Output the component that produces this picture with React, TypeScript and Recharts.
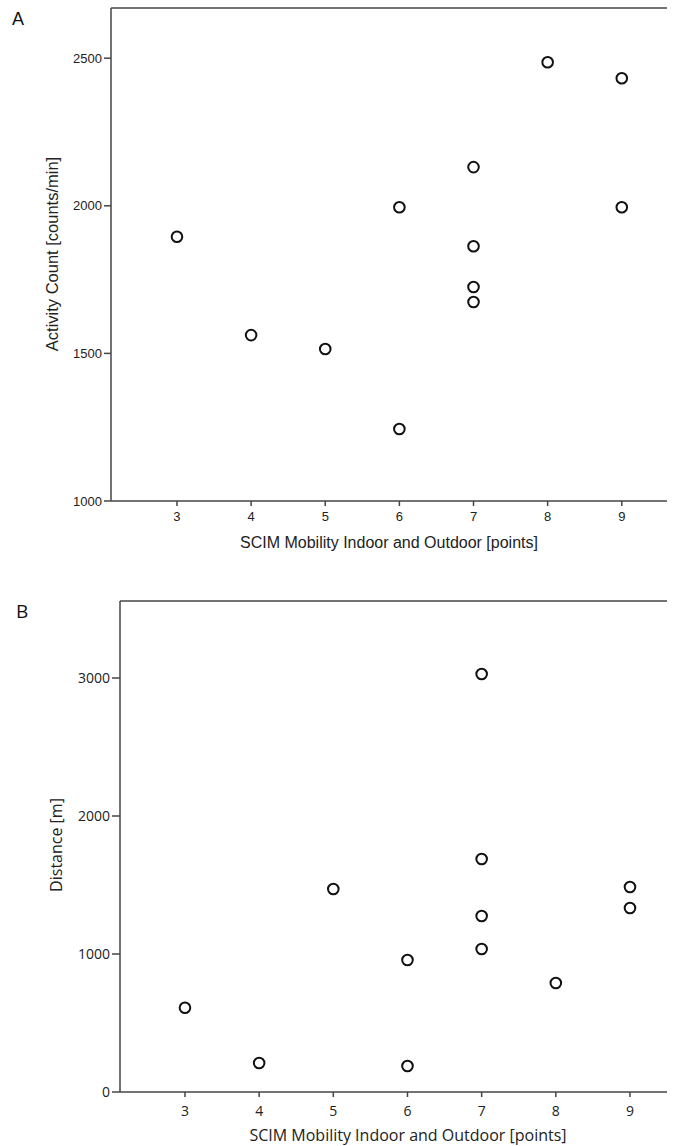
import React from "react";
import { ScatterChart, Scatter, XAxis, YAxis, ReferenceLine } from "recharts";

// SCIM mobility score (x) for each subject
const scimPoints = [3, 4, 5, 6, 6, 7, 7, 7, 7, 8, 9, 9];
// panel A: activity counts per minute
const activityCounts = [1895, 1562, 1515, 1995, 1244, 2131, 1863, 1725, 1674, 2486, 2432, 1995];
// panel B: distance in metres
const distances = [610, 210, 1471, 956, 188, 3029, 1688, 1275, 1036, 790, 1485, 1333];

const xTicks = [3, 4, 5, 6, 7, 8, 9];
const activityTicks = [1000, 1500, 2000, 2500];
const distanceTicks = [0, 1000, 2000, 3000];

const X_LABEL = "SCIM Mobility Indoor and Outdoor [points]";
const AXIS = "#454545";
const INK = "#222";
const FONT_A = "'Liberation Sans', Arial, sans-serif";
const FONT_B = "'Open Sans', sans-serif";

const activityData = scimPoints.map((x, i) => ({ x, y: activityCounts[i] }));
const distanceData = scimPoints.map((x, i) => ({ x, y: distances[i] }));

const Ring = (props: any) => (
  <circle cx={props.cx} cy={props.cy} r={5.3} fill="#fff" stroke="#111" strokeWidth={2} />
);

function Title({ px, py, text, vertical, font, size }: any) {
  return (
    <text
      x={px}
      y={py}
      textAnchor="middle"
      dominantBaseline="central"
      transform={vertical ? `rotate(-90 ${px} ${py})` : undefined}
      fontFamily={font}
      fontSize={size}
      fill={INK}
    >
      {text}
    </text>
  );
}

export default function App() {
  return (
    <div style={{ position: "absolute", left: 0, top: 0, width: 678, height: 1146, background: "#fff" }}>
      <div style={{ position: "absolute", left: 12, top: 10, fontFamily: FONT_A, fontSize: 18, lineHeight: "18px", color: "#111" }}>
        A
      </div>
      <div style={{ position: "absolute", left: 16, top: 602, fontFamily: FONT_B, fontSize: 19, lineHeight: "19px", color: "#111" }}>
        B
      </div>

      <div style={{ position: "absolute", left: 0, top: 0 }}>
        <ScatterChart width={678} height={570} margin={{ top: 8, right: 11, left: 0, bottom: 0 }}>
          <XAxis
            type="number"
            dataKey="x"
            domain={[2.11, 9.61]}
            ticks={xTicks}
            allowDataOverflow
            height={69}
            tickSize={5}
            tickMargin={6}
            axisLine={{ stroke: AXIS, strokeWidth: 1.5 }}
            tickLine={{ stroke: AXIS, strokeWidth: 1.5 }}
            tick={{ fill: INK, fontSize: 13, fontFamily: FONT_A }}
            label={<Title px={389} py={542} text={X_LABEL} font={FONT_A} size={16} />}
          />
          <YAxis
            type="number"
            dataKey="y"
            domain={[1000, 2670]}
            ticks={activityTicks}
            allowDataOverflow
            width={111}
            tickSize={7}
            tickMargin={2}
            axisLine={{ stroke: AXIS, strokeWidth: 1.5 }}
            tickLine={{ stroke: AXIS, strokeWidth: 1.5 }}
            tick={{ fill: INK, fontSize: 13, fontFamily: FONT_A }}
            label={<Title px={52} py={254} text="Activity Count [counts/min]" vertical font={FONT_A} size={16.5} />}
          />
          <ReferenceLine y={2670} stroke={AXIS} strokeWidth={1.5} />
          <Scatter data={activityData} shape={Ring} isAnimationActive={false} />
        </ScatterChart>
      </div>

      <div style={{ position: "absolute", left: 0, top: 580 }}>
        <ScatterChart width={678} height={566} margin={{ top: 21, right: 11, left: 0, bottom: 0 }}>
          <XAxis
            type="number"
            dataKey="x"
            domain={[2.124, 9.499]}
            ticks={xTicks}
            allowDataOverflow
            height={54}
            tickSize={5}
            tickMargin={9}
            axisLine={{ stroke: AXIS, strokeWidth: 1.5 }}
            tickLine={{ stroke: AXIS, strokeWidth: 1.5 }}
            tick={{ fill: INK, fontSize: 14, fontFamily: FONT_B }}
            label={<Title px={408} py={555} text={X_LABEL} font={FONT_B} size={16} />}
          />
          <YAxis
            type="number"
            dataKey="y"
            domain={[0, 3558]}
            ticks={distanceTicks}
            allowDataOverflow
            width={120}
            tickSize={8}
            tickMargin={2}
            axisLine={{ stroke: AXIS, strokeWidth: 1.5 }}
            tickLine={{ stroke: AXIS, strokeWidth: 1.5 }}
            tick={{ fill: INK, fontSize: 14, fontFamily: FONT_B }}
            label={<Title px={56} py={265} text="Distance [m]" vertical font={FONT_B} size={16} />}
          />
          <ReferenceLine y={3558} stroke={AXIS} strokeWidth={1.5} />
          <Scatter data={distanceData} shape={Ring} isAnimationActive={false} />
        </ScatterChart>
      </div>
    </div>
  );
}
